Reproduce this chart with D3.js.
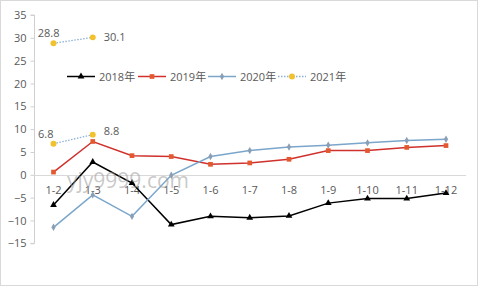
<!DOCTYPE html>
<html>
<head>
<meta charset="utf-8">
<script src="https://cdn.jsdelivr.net/npm/d3@7"></script>
<style>
  body { margin: 0; background: #fff; }
  text { font-family: "Open Sans", "Noto Sans CJK SC", sans-serif; fill: #595959; }
</style>
</head>
<body>
<div id="chart"></div>
<script>
// months, cumulative Jan-to-month
const categories = ['1-2', '1-3', '1-4', '1-5', '1-6', '1-7', '1-8', '1-9', '1-10', '1-11', '1-12'];
const y2018 = [-6.6, 2.8, -1.8, -10.9, -9.1, -9.4, -9.0, -6.2, -5.2, -5.2, -4.0];
const y2019 = [0.6, 7.3, 4.2, 4.0, 2.3, 2.6, 3.4, 5.3, 5.3, 6.0, 6.4];
const y2020 = [-11.5, -4.4, -9.1, -0.1, 4.0, 5.3, 6.1, 6.5, 7.0, 7.5, 7.8];
const y2021 = [28.8, 30.1];
const y2021b = [6.8, 8.8];
const yTicks = [35, 30, 25, 20, 15, 10, 5, 0, -5, -10, -15];

const width = 481, height = 289;
const svg = d3.select('#chart').append('svg')
    .attr('width', width).attr('height', height);

// outer frame
svg.append('rect')
    .attr('x', 0.5).attr('y', 0.5)
    .attr('width', 477).attr('height', 285)
    .attr('fill', '#fff').attr('stroke', '#d9d9d9');

const x = d3.scalePoint().domain(categories).range([53.5, 446]);
const y = d3.scaleLinear().domain([-15, 35]).range([243.3, 15]);

// y axis
const yAxis = svg.append('g')
    .attr('transform', 'translate(34.5,0)')
    .call(d3.axisLeft(y).tickValues(yTicks).tickSize(4).tickPadding(4));
yAxis.select('.domain').attr('stroke', '#d0d0d0').attr('d', `M-4,${y(35)}H0V${y(-15)}H-4`);
yAxis.selectAll('.tick line').attr('stroke', '#d0d0d0');
yAxis.selectAll('.tick text').attr('font-size', 11).attr('fill', '#595959');

// zero line
svg.append('line')
    .attr('x1', 34.5).attr('x2', 466)
    .attr('y1', Math.round(y(0)) + 0.5).attr('y2', Math.round(y(0)) + 0.5)
    .attr('stroke', '#d9d9d9');

// category labels
svg.selectAll('.cat').data(categories).join('text')
    .attr('class', 'cat')
    .attr('x', d => x(d)).attr('y', y(0) + 19)
    .attr('text-anchor', 'middle').attr('font-size', 11)
    .text(d => d);

const series = [
  {name: '2018年', values: y2018, color: '#000000', marker: 'triangle', mColor: '#000000', dash: null},
  {name: '2019年', values: y2019, color: '#d0312d', marker: 'square', mColor: '#e2582f', dash: null},
  {name: '2020年', values: y2020, color: '#7ba6cb', marker: 'diamond', mColor: '#8a9fb5', dash: null},
  {name: '2021年', values: y2021, color: '#8cb1d6', marker: 'circle', mColor: '#f2c12e', dash: '1.5,1.5'},
  {name: null, values: y2021b, color: '#8cb1d6', marker: 'circle', mColor: '#f2c12e', dash: '1.5,1.5'}
];

const symbolOf = {
  triangle: d3.symbol().type(d3.symbolTriangle).size(20),
  square: d3.symbol().type(d3.symbolSquare).size(22),
  diamond: d3.symbol().type(d3.symbolDiamond).size(16),
  circle: d3.symbol().type(d3.symbolCircle).size(28)
};

const line = d3.line().x((d, i) => x(categories[i])).y(d => y(d));

series.forEach(s => {
  svg.append('path')
      .attr('d', line(s.values))
      .attr('fill', 'none')
      .attr('stroke', s.color)
      .attr('stroke-width', s.dash ? 1.3 : 1.5)
      .attr('stroke-dasharray', s.dash);
  svg.selectAll(null).data(s.values).join('path')
      .attr('transform', (d, i) => `translate(${x(categories[i])},${y(d)})`)
      .attr('d', symbolOf[s.marker]())
      .attr('fill', s.mColor);
});

// data labels for the yellow series
function label(val, i, dx, dy, anchor) {
  svg.append('text')
      .attr('x', x(categories[i]) + dx).attr('y', y(val) + dy)
      .attr('text-anchor', anchor).attr('font-size', 11)
      .attr('fill', '#404040')
      .text(val.toFixed(1));
}
label(y2021[0], 0, 6, -6, 'end');
label(y2021[1], 1, 11, 4, 'start');
label(y2021b[0], 0, 0, -6, 'end');
label(y2021b[1], 1, 11, 0, 'start');

// legend
const legendX = [67, 138, 208, 278];
const legend = svg.selectAll('.legend').data(series.filter(s => s.name)).join('g')
    .attr('class', 'legend')
    .attr('transform', (d, i) => `translate(${legendX[i]},76.5)`);
legend.append('line')
    .attr('x1', 0).attr('x2', 28)
    .attr('stroke', d => d.color).attr('stroke-width', d => d.dash ? 1.3 : 1.5)
    .attr('stroke-dasharray', d => d.dash);
legend.append('path')
    .attr('transform', 'translate(14,0)')
    .attr('d', d => symbolOf[d.marker]())
    .attr('fill', d => d.mColor);
legend.append('text')
    .attr('x', 32).attr('y', 4)
    .attr('font-size', 11)
    .text(d => d.name);

// watermark
svg.append('text')
    .attr('x', 67).attr('y', 188)
    .attr('font-size', 21)
    .style('fill', '#9a9a9a').attr('fill-opacity', 0.55)
    .text('yjy9999.com');
</script>
</body>
</html>
